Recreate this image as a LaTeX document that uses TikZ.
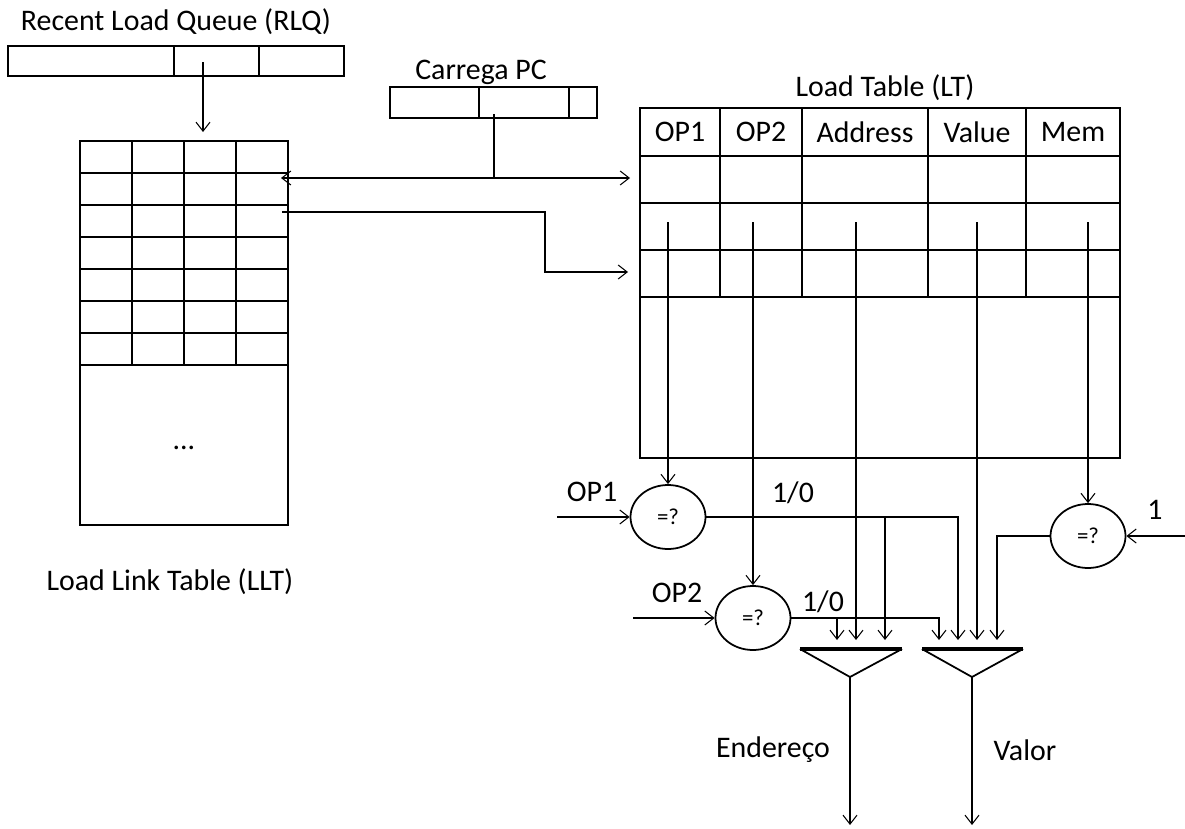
\documentclass[tikz,border=0pt]{standalone}
\usepackage{fontspec}
\setmainfont{Carlito}
\usetikzlibrary{arrows.meta,positioning,shapes.geometric}

\begin{document}
\begin{tikzpicture}[x=0.2mm, y=-0.2mm,
    every node/.style={font=\fontsize{17}{20}\selectfont},
    cell/.style={draw, line width=1pt, inner sep=0pt, outer sep=0pt},
    rule/.style={line width=1pt},
    link/.style={line width=0.6pt},
    tip/.style={link, -{Straight Barb[length=1.8mm,width=2.8mm]}},
    tips/.style={link, {Straight Barb[length=1.8mm,width=2.8mm]}-{Straight Barb[length=1.8mm,width=2.8mm]}},
    cmp/.style={draw, ellipse, line width=1pt, minimum width=15mm, minimum height=12.8mm,
        inner sep=0pt, font=\fontsize{13}{15}\selectfont}]
    \useasboundingbox (0,0) rectangle (1185,828);

    % Recent load queue
    \node (rlqlabel) at (176,22) {Recent Load Queue (RLQ)};
    \node[cell, minimum width=33.2mm, minimum height=6mm, anchor=north west] (rlq1) at (8,46) {};
    \node[cell, minimum width=17mm, minimum height=6mm, right=0pt of rlq1] (rlq2) {};
    \node[cell, minimum width=17mm, minimum height=6mm, right=0pt of rlq2] (rlq3) {};

    % Load link table
    \node[cell, minimum width=41.6mm, minimum height=76.8mm, anchor=north west] (llt) at (80,141) {};
    \foreach \r in {1,...,7} \draw[rule] (80,141+32*\r) -- (288,141+32*\r);
    \foreach \c in {1,2,3} \draw[rule] (80+52*\c,141) -- (80+52*\c,365);
    \node (lltdots) at (184,448) {...};
    \node (lltlabel) at (170,582) {Load Link Table (LLT)};

    % Carrega PC
    \node (pclabel) at (481,72) {Carrega PC};
    \node[cell, minimum width=17.8mm, minimum height=6.2mm, anchor=north west] (pc1) at (390,87) {};
    \node[cell, minimum width=18mm, minimum height=6.2mm, right=0pt of pc1] (pc2) {};
    \node[cell, minimum width=5.6mm, minimum height=6.2mm, right=0pt of pc2] (pc3) {};

    % Load table
    \node (ltlabel) at (885,88) {Load Table (LT)};
    \node[cell, minimum width=96mm, minimum height=70mm, anchor=north west] (lt) at (640,108) {};
    \foreach \y in {156,203,250,297} \draw[rule] (640,\y) -- (1120,\y);
    \foreach \x in {720,802,928,1026} \draw[rule] (\x,108) -- (\x,297);
    \foreach \x/\t in {680/OP1, 761/OP2, 865/Address, 977/Value, 1073/Mem}
        \node (h\t) at (\x,132) {\t};

    % Comparators
    \node[cmp] (cmpA) at (668,517) {=?};
    \node[cmp] (cmpB) at (753,618) {=?};
    \node[cmp] (cmpC) at (1088,536) {=?};
    \node (opAlabel) at (592,492) {OP1};
    \node (opBlabel) at (677,593) {OP2};
    \node (onelabel) at (1155,510) {1};
    \node (bitA) at (793,493) {1/0};
    \node (bitB) at (823,602) {1/0};

    % Muxes
    \draw[rule] (800,649) -- (850,677) -- (902,649);
    \draw[line width=1.8pt] (800,649) -- (902,649);
    \draw[rule] (922,649) -- (972,677) -- (1023,649);
    \draw[line width=1.8pt] (922,649) -- (1023,649);
    \coordinate (muxA) at (850,677);
    \coordinate (muxB) at (972,677);
    \node (endlabel) at (773,750) {Endereço};
    \node (vallabel) at (1025,750) {Valor};

    % Tap points
    \coordinate (rlqtap) at (203,62);
    \coordinate (pctap) at (494,114);
    \coordinate (pcjoin) at (494,178);
    \coordinate (lltin) at (281,178);
    \coordinate (ltin) at (630,178);
    \coordinate (lltout) at (282,212);
    \coordinate (ltin2) at (628,272);
    \coordinate (ltop1) at (668,222);
    \coordinate (ltop2) at (753,222);
    \coordinate (ltaddr) at (856,222);
    \coordinate (ltval) at (977,222);
    \coordinate (ltmem) at (1088,222);
    \coordinate (inA) at (557,517);
    \coordinate (inB) at (633,618);
    \coordinate (inC) at (1185,536);
    \foreach \n/\x in {a1/837, a2/856, a3/885, b1/939, b2/958, b3/977, b4/997}
        \coordinate (\n) at (\x,640);
    \coordinate (outA) at (850,825);
    \coordinate (outB) at (972,825);

    % Connectors
    \draw[tip] (rlqtap) -- (203,132);
    \draw[link] (pctap) -- (pcjoin);
    \draw[tips] (lltin) -- (ltin);
    \draw[tip] (lltout) -| (545,272) -- (ltin2);
    \draw[tip] (ltop1) -- (cmpA);
    \draw[tip] (ltop2) -- (cmpB);
    \draw[tip] (ltmem) -- (cmpC);
    \draw[tip] (ltaddr) -- (a2);
    \draw[tip] (ltval) -- (b3);
    \draw[tip] (inA) -- (cmpA);
    \draw[tip] (inB) -- (cmpB);
    \draw[tip] (inC) -- (cmpC);
    \draw[tip] (cmpA.east) -| (b2);
    \draw[tip] (cmpA.east -| a3) -- (a3);
    \draw[tip] (cmpB.east) -| (b1);
    \draw[tip] (cmpB.east -| a1) -- (a1);
    \draw[tip] (cmpC.west) -| (b4);
    \draw[tip] (muxA) -- (outA);
    \draw[tip] (muxB) -- (outB);
\end{tikzpicture}
\end{document}
